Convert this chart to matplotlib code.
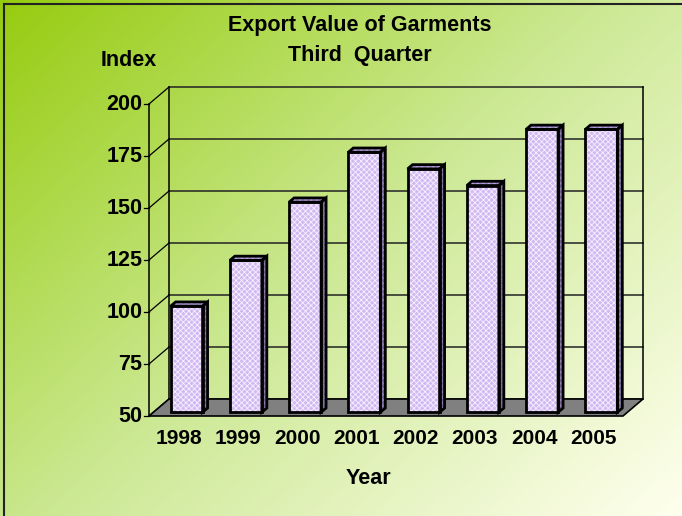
import numpy as np
import matplotlib
matplotlib.use('Agg')
import matplotlib.pyplot as plt
from matplotlib.patches import Polygon
from matplotlib.lines import Line2D

years = ['1998', '1999', '2000', '2001', '2002', '2003', '2004', '2005']
index_values = [101, 123, 151, 175, 167, 159, 186, 186]
y_ticks = [50, 75, 100, 125, 150, 175, 200]

plt.rcParams['font.family'] = ['Liberation Sans', 'DejaVu Sans']
plt.rcParams['font.weight'] = 'bold'
plt.rcParams['hatch.linewidth'] = 0.6

W, H = 682, 516
fig = plt.figure(figsize=(W / 100, H / 100), dpi=100)

# diagonal gradient background
bg = fig.add_axes([0, 0, 1, 1])
gx, gy = np.meshgrid(np.linspace(0, 1, 300), np.linspace(0, 1, 230))
t = (gx * 0.55 + gy * 0.45)
c0 = np.array([150, 204, 15]) / 255
c1 = np.array([205, 233, 150]) / 255
c2 = np.array([255, 255, 238]) / 255
t2 = t[..., None]
img = np.where(t2 < 0.5, c0 + (c1 - c0) * (t2 / 0.5), c1 + (c2 - c1) * ((t2 - 0.5) / 0.5))
bg.imshow(img, extent=[0, 1, 0, 1], aspect='auto', origin='upper')
bg.set_xlim(0, 1)
bg.set_ylim(0, 1)
bg.axis('off')

# front plane of the 3d box
left, right, bottom, top = 149, 623, 416, 104
ax = fig.add_axes([left / W, 1 - bottom / H, (right - left) / W, (bottom - top) / H])
ax.set_xlim(0, len(years))
ax.set_ylim(50, 200)
ax.axis('off')
ax.patch.set_alpha(0)

px_x = (right - left) / len(years)
px_y = (bottom - top) / 150.0
DX = 20 / px_x
DY = 17 / px_y
n = len(years)
ymin, ymax = y_ticks[0], y_ticks[-1]

# floor
ax.add_patch(Polygon([(0, ymin), (n, ymin), (n + DX, ymin + DY), (DX, ymin + DY)],
                     closed=True, facecolor='#808080', edgecolor='black', lw=1.2, clip_on=False, zorder=2))

# back wall gridlines and left wall diagonals
for tk in y_ticks:
    ax.add_line(Line2D([DX, n + DX], [tk + DY, tk + DY], color='#222222', lw=1.1, clip_on=False, zorder=1))
    ax.add_line(Line2D([0, DX], [tk, tk + DY], color='black', lw=0.9, clip_on=False, zorder=1))
    ax.add_line(Line2D([-0.09, 0], [tk, tk], color='black', lw=0.9, clip_on=False, zorder=1))
    ax.text(-0.11, tk, str(tk), ha='right', va='center', fontsize=15.5, fontweight='bold', clip_on=False)
ax.add_line(Line2D([DX, DX], [ymin + DY, ymax + DY], color='black', lw=1.1, clip_on=False, zorder=1))
ax.add_line(Line2D([n + DX, n + DX], [ymin + DY, ymax + DY], color='black', lw=1.1, clip_on=False, zorder=1))
ax.add_line(Line2D([0, 0], [ymin, ymax], color='black', lw=1.1, clip_on=False, zorder=1))

# bars
f0, f1 = 0.22, 0.47
bw = 0.54
shift = 0.06
for i, v in enumerate(index_values):
    xl = i + 0.5 + shift - bw / 2
    xr = xl + bw
    a = (f0 * DX, f0 * DY)
    b = (f1 * DX, f1 * DY)
    front = [(xl + a[0], ymin + a[1]), (xr + a[0], ymin + a[1]), (xr + a[0], v + a[1]), (xl + a[0], v + a[1])]
    side = [(xr + a[0], ymin + a[1]), (xr + b[0], ymin + b[1]), (xr + b[0], v + b[1]), (xr + a[0], v + a[1])]
    topf = [(xl + a[0], v + a[1]), (xr + a[0], v + a[1]), (xr + b[0], v + b[1]), (xl + b[0], v + b[1])]
    for pts, fc, hc in [(front, '#D2B9F2', '#F6F0FF'), (side, '#6E5F8E', '#9384B0'), (topf, '#9A86C4', '#BBAADC')]:
        ax.add_patch(Polygon(pts, closed=True, facecolor=fc, edgecolor='none', clip_on=False, zorder=3))
        ax.add_patch(Polygon(pts, closed=True, facecolor='none', edgecolor=hc, hatch='xxxxxx', lw=0, clip_on=False, zorder=3))
        ax.add_patch(Polygon(pts, closed=True, facecolor='none', edgecolor='black', lw=2,
                             joinstyle='miter', clip_on=False, zorder=4))

# category labels
label_y = ymin - (438 - bottom) / px_y
for i, yr in enumerate(years):
    ax.text(i + 0.5, label_y, yr, ha='center', va='center', fontsize=15, fontweight='bold', clip_on=False)

fig.text(360 / W, 1 - 25 / H, 'Export Value of Garments', ha='center', va='center', fontsize=15.5, fontweight='bold')
fig.text(360 / W, 1 - 55 / H, 'Third  Quarter', ha='center', va='center', fontsize=15.5, fontweight='bold')
fig.text(129 / W, 1 - 60 / H, 'Index', ha='center', va='center', fontsize=15.5, fontweight='bold')
fig.text(368 / W, 1 - 478 / H, 'Year', ha='center', va='center', fontsize=15.5, fontweight='bold')

# outer frame
fig.add_artist(Line2D([3.5 / W, 3.5 / W], [0, 1 - 3.5 / H], color='#222222', lw=1.5))
fig.add_artist(Line2D([3.5 / W, 1], [1 - 3.5 / H, 1 - 3.5 / H], color='#222222', lw=1.5))

fig.savefig('out.png', dpi=100)
plt.close(fig)
